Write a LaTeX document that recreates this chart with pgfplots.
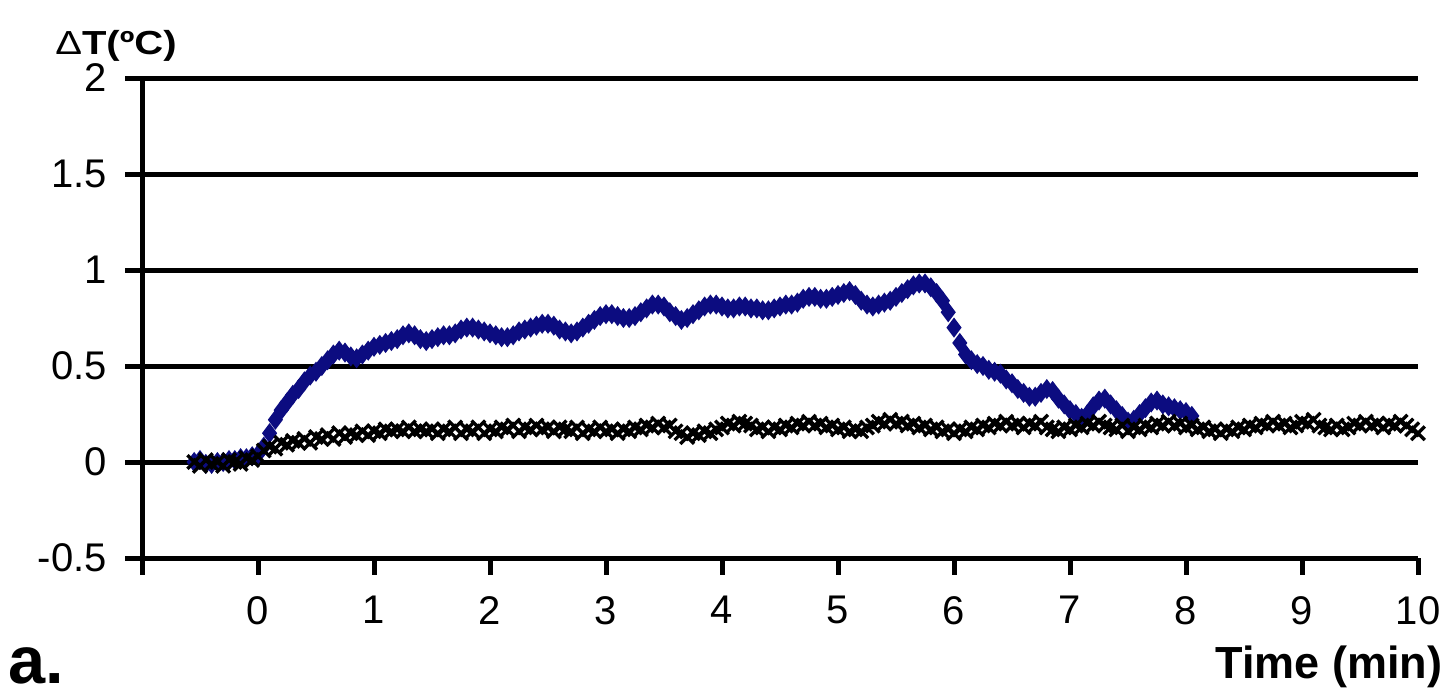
\documentclass[border=0pt]{standalone}
\usepackage{pgfplots}
\pgfplotsset{compat=1.18}
\usepackage{fontspec}
\setmainfont{Liberation Sans}
\definecolor{navyb}{RGB}{12,12,128}

\begin{document}
\begin{tikzpicture}
\useasboundingbox (-42.6pt,-41.4pt) rectangle (393.6pt,167.4pt);
\begin{axis}[
  at={(0,0)}, anchor=south west,
  scale only axis, width=382.8pt, height=144pt,
  xmin=-1, xmax=10, ymin=-0.5, ymax=2,
  axis x line*=bottom, axis y line*=left,
  axis line style={-, line width=1.5pt, black},
  xtick={-1,0,1,2,3,4,5,6,7,8,9,10},
  xticklabels={,0,1,2,3,4,5,6,7,8,9,10},
  ytick={-0.5,0,0.5,1,1.5,2},
  /pgf/number format/assume math mode=true,
  tick align=outside,
  major tick length=5pt,
  tick style={line width=1.5pt, black},
  ymajorgrids, xmajorgrids=false,
  major grid style={line width=1.5pt, black},
  tick label style={font=\fontsize{12}{14}\selectfont},
  yticklabel style={xshift=-2pt},
  xticklabel style={yshift=-3pt},
  clip=false,
]
\addplot[only marks, mark=diamond*, mark size=2.7pt, color=navyb, fill=navyb] table {
x y
-0.55 0.00
-0.50 0.01
-0.45 -0.01
-0.40 -0.01
-0.35 0.00
-0.30 0.00
-0.25 0.01
-0.20 0.01
-0.15 0.02
-0.10 0.02
-0.05 0.03
0.00 0.04
0.05 0.08
0.10 0.15
0.15 0.22
0.20 0.27
0.25 0.31
0.30 0.35
0.35 0.38
0.40 0.42
0.45 0.45
0.50 0.47
0.55 0.50
0.60 0.53
0.65 0.56
0.70 0.58
0.75 0.57
0.80 0.55
0.85 0.54
0.90 0.56
0.95 0.58
1.00 0.60
1.05 0.61
1.10 0.62
1.15 0.63
1.20 0.64
1.25 0.66
1.30 0.67
1.35 0.66
1.40 0.64
1.45 0.63
1.50 0.64
1.55 0.65
1.60 0.66
1.65 0.66
1.70 0.67
1.75 0.69
1.80 0.70
1.85 0.70
1.90 0.69
1.95 0.68
2.00 0.67
2.05 0.66
2.10 0.65
2.15 0.65
2.20 0.66
2.25 0.68
2.30 0.69
2.35 0.70
2.40 0.71
2.45 0.72
2.50 0.72
2.55 0.71
2.60 0.69
2.65 0.68
2.70 0.67
2.75 0.68
2.80 0.70
2.85 0.72
2.90 0.74
2.95 0.76
3.00 0.77
3.05 0.77
3.10 0.76
3.15 0.75
3.20 0.75
3.25 0.76
3.30 0.78
3.35 0.80
3.40 0.82
3.45 0.82
3.50 0.81
3.55 0.78
3.60 0.76
3.65 0.74
3.70 0.75
3.75 0.77
3.80 0.79
3.85 0.81
3.90 0.82
3.95 0.82
4.00 0.81
4.05 0.80
4.10 0.80
4.15 0.81
4.20 0.81
4.25 0.80
4.30 0.80
4.35 0.79
4.40 0.79
4.45 0.80
4.50 0.81
4.55 0.82
4.60 0.82
4.65 0.83
4.70 0.85
4.75 0.86
4.80 0.86
4.85 0.85
4.90 0.85
4.95 0.86
5.00 0.87
5.05 0.88
5.10 0.89
5.15 0.87
5.20 0.84
5.25 0.82
5.30 0.81
5.35 0.82
5.40 0.83
5.45 0.84
5.50 0.86
5.55 0.88
5.60 0.90
5.65 0.92
5.70 0.93
5.75 0.93
5.80 0.91
5.85 0.88
5.90 0.84
5.95 0.78
6.00 0.70
6.05 0.62
6.10 0.56
6.15 0.53
6.20 0.51
6.25 0.50
6.30 0.48
6.35 0.47
6.40 0.46
6.45 0.43
6.50 0.41
6.55 0.38
6.60 0.36
6.65 0.34
6.70 0.34
6.75 0.36
6.80 0.38
6.85 0.37
6.90 0.33
6.95 0.30
7.00 0.27
7.05 0.25
7.10 0.23
7.15 0.25
7.20 0.29
7.25 0.32
7.30 0.33
7.35 0.30
7.40 0.27
7.45 0.24
7.50 0.21
7.55 0.22
7.60 0.25
7.65 0.28
7.70 0.31
7.75 0.32
7.80 0.30
7.85 0.29
7.90 0.28
7.95 0.27
8.00 0.26
8.05 0.24
};
\addplot[only marks, mark=x, mark size=2.9pt, line width=1pt, color=black] table {
x y
-0.55 0.00
-0.50 -0.02
-0.45 0.01
-0.40 -0.01
-0.35 0.00
-0.30 -0.02
-0.25 0.01
-0.20 0.00
-0.15 -0.01
-0.10 0.02
-0.05 0.01
0.00 0.03
0.05 0.06
0.10 0.08
0.15 0.07
0.20 0.10
0.25 0.09
0.30 0.11
0.35 0.10
0.40 0.12
0.45 0.10
0.50 0.13
0.55 0.12
0.60 0.14
0.65 0.12
0.70 0.15
0.75 0.13
0.80 0.15
0.85 0.14
0.90 0.16
0.95 0.14
1.00 0.16
1.05 0.15
1.10 0.17
1.15 0.16
1.20 0.17
1.25 0.16
1.30 0.18
1.35 0.16
1.40 0.17
1.45 0.16
1.50 0.17
1.55 0.15
1.60 0.17
1.65 0.16
1.70 0.18
1.75 0.15
1.80 0.17
1.85 0.16
1.90 0.18
1.95 0.15
2.00 0.17
2.05 0.16
2.10 0.18
2.15 0.17
2.20 0.19
2.25 0.16
2.30 0.18
2.35 0.17
2.40 0.19
2.45 0.17
2.50 0.18
2.55 0.16
2.60 0.18
2.65 0.17
2.70 0.16
2.75 0.18
2.80 0.15
2.85 0.17
2.90 0.16
2.95 0.18
3.00 0.16
3.05 0.17
3.10 0.15
3.15 0.17
3.20 0.16
3.25 0.18
3.30 0.17
3.35 0.19
3.40 0.18
3.45 0.20
3.50 0.18
3.55 0.19
3.60 0.16
3.65 0.15
3.70 0.13
3.75 0.15
3.80 0.14
3.85 0.16
3.90 0.15
3.95 0.17
4.00 0.18
4.05 0.20
4.10 0.19
4.15 0.21
4.20 0.20
4.25 0.19
4.30 0.17
4.35 0.18
4.40 0.16
4.45 0.18
4.50 0.17
4.55 0.19
4.60 0.18
4.65 0.20
4.70 0.19
4.75 0.21
4.80 0.19
4.85 0.20
4.90 0.18
4.95 0.19
5.00 0.17
5.05 0.18
5.10 0.16
5.15 0.17
5.20 0.16
5.25 0.18
5.30 0.19
5.35 0.21
5.40 0.20
5.45 0.22
5.50 0.20
5.55 0.21
5.60 0.19
5.65 0.20
5.70 0.18
5.75 0.19
5.80 0.17
5.85 0.18
5.90 0.16
5.95 0.17
6.00 0.15
6.05 0.17
6.10 0.16
6.15 0.18
6.20 0.17
6.25 0.19
6.30 0.18
6.35 0.20
6.40 0.19
6.45 0.21
6.50 0.19
6.55 0.20
6.60 0.18
6.65 0.20
6.70 0.19
6.75 0.21
6.80 0.18
6.85 0.17
6.90 0.16
6.95 0.18
7.00 0.17
7.05 0.19
7.10 0.18
7.15 0.20
7.20 0.19
7.25 0.21
7.30 0.19
7.35 0.18
7.40 0.17
7.45 0.19
7.50 0.16
7.55 0.18
7.60 0.17
7.65 0.19
7.70 0.18
7.75 0.20
7.80 0.19
7.85 0.21
7.90 0.19
7.95 0.20
8.00 0.18
8.05 0.19
8.10 0.17
8.15 0.18
8.20 0.16
8.25 0.17
8.30 0.15
8.35 0.17
8.40 0.16
8.45 0.18
8.50 0.17
8.55 0.19
8.60 0.18
8.65 0.20
8.70 0.19
8.75 0.21
8.80 0.19
8.85 0.20
8.90 0.18
8.95 0.19
9.00 0.21
9.05 0.20
9.10 0.22
9.15 0.19
9.20 0.18
9.25 0.17
9.30 0.19
9.35 0.17
9.40 0.18
9.45 0.20
9.50 0.19
9.55 0.21
9.60 0.19
9.65 0.20
9.70 0.18
9.75 0.20
9.80 0.19
9.85 0.21
9.90 0.19
9.95 0.17
10.00 0.15
};
\node[anchor=base, xscale=1.2, font=\bfseries\fontsize{10}{12}\selectfont] at (rel axis cs:-0.0204,1.05) {{\mdseries Δ}T(ºC)};
\node[anchor=base, font=\bfseries\fontsize{13.5}{15}\selectfont] at (rel axis cs:0.930,-0.25) {Time (min)};
\node[anchor=base west, inner sep=0pt, font=\bfseries\fontsize{20}{22}\selectfont] at (rel axis cs:-0.105,-0.262) {a.};
\end{axis}
\end{tikzpicture}
\end{document}
